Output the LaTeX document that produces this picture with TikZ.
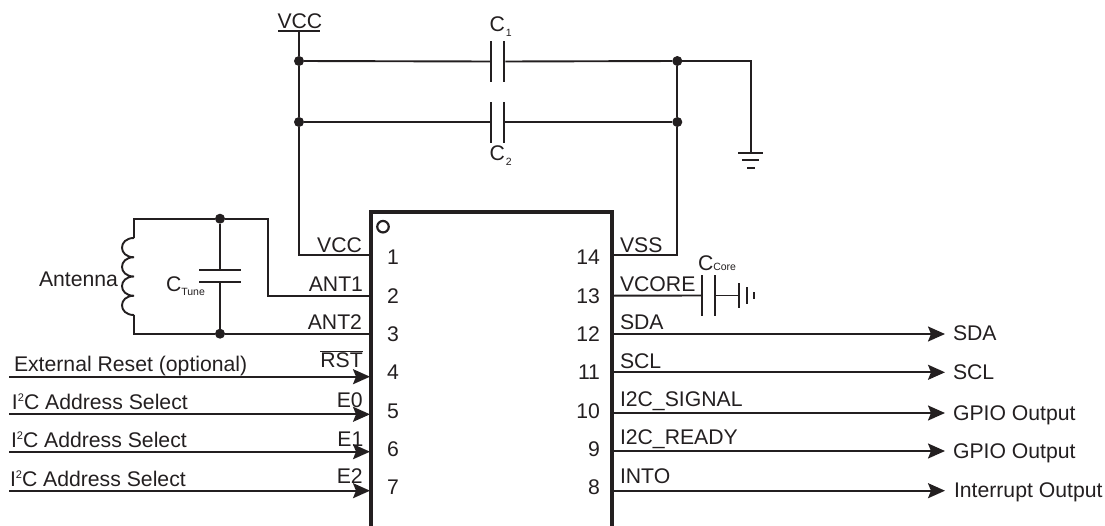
\documentclass[tikz,border=0pt]{standalone}
\usepackage{fontspec}
\setmainfont{Liberation Sans}
\usetikzlibrary{arrows.meta}
\definecolor{ink}{HTML}{231F20}
\newcommand{\subtxt}[1]{{\fontsize{10.5}{12}\selectfont #1}}
\newcommand{\itwoc}{I\raisebox{7.5pt}{\fontsize{11}{12}\selectfont 2}C Address Select}
\tikzset{
  every node/.style={inner sep=0pt,outer sep=0pt,text=ink,font=\fontsize{21.2}{24}\selectfont},
  wire/.style={draw=ink,line width=1.9pt,line join=miter},
  sig/.style={wire,-{Stealth[length=17pt,width=15pt,inset=3pt]}},
  dot/.style={circle,fill=ink,minimum size=10pt},
  vplate/.style={rectangle,fill=ink,minimum width=2pt,minimum height=#1},
  hplate/.style={rectangle,fill=ink,minimum height=2pt,minimum width=#1},
  lbl/.style={anchor=base west,yshift=-1pt},
  rlbl/.style={anchor=base east,yshift=-1pt},
  num/.style={anchor=base,yshift=-1pt},
}
\begin{document}
\begin{tikzpicture}[x=1pt,y=-1pt]
\useasboundingbox (0,0) rectangle (1105,525);
% junctions
\node[dot] (dv1) at (299,61) {};
\node[dot] (dv2) at (299,122) {};
\node[dot] (dg1) at (677.3,61) {};
\node[dot] (dg2) at (677.3,122) {};
\node[dot] (dt1) at (220,218.7) {};
\node[dot] (dt2) at (220,333.7) {};
% VCC rail
\node[hplate=42pt] (vccbar) at (299,30.7) {};
\node[lbl] (vcctop) at (277.5,27) {VCC};
% capacitors
\node[vplate=41pt] (c1a) at (491.3,61.5) {};
\node[vplate=41pt] (c1b) at (504.3,61.5) {};
\node[vplate=41pt] (c2a) at (491.3,122) {};
\node[vplate=41pt] (c2b) at (504.3,122) {};
\node[lbl] (c1l) at (489.5,30) {C\subtxt{\raisebox{-5pt}{\hspace{1pt}1}}};
\node[lbl] (c2l) at (489.5,159) {C\subtxt{\raisebox{-5pt}{\hspace{1pt}2}}};
% ground top
\coordinate (gc) at (750.7,61);
\node[hplate=25pt] (g1) at (750.7,153) {};
\node[hplate=17pt] (g2) at (750.7,160) {};
\node[hplate=8pt] (g3) at (750.7,168) {};
% left pins
\coordinate (p1) at (371,255);
\coordinate (p2) at (371,295.7);
\coordinate (p3) at (371,333.7);
\coordinate (p4) at (370,376.7);
\coordinate (p5) at (370,414.3);
\coordinate (p6) at (370,451.7);
\coordinate (p7) at (370,490.7);
\coordinate (s4) at (9,376.7);
\coordinate (s5) at (9,414.3);
\coordinate (s6) at (9,451.7);
\coordinate (s7) at (9,490.7);
% right pins
\coordinate (p14) at (612,255);
\coordinate (p13) at (612,295.7);
\coordinate (p12) at (612,334);
\coordinate (p11) at (612,372.3);
\coordinate (p10) at (612,413);
\coordinate (p9) at (612,451);
\coordinate (p8) at (612,490.7);
\coordinate (o12) at (945,334);
\coordinate (o11) at (945,372.3);
\coordinate (o10) at (945,413);
\coordinate (o9) at (945,451);
\coordinate (o8) at (945,490.7);
% antenna
\coordinate (a1) at (134,218.7);
\coordinate (a2) at (134,238);
\coordinate (a3) at (134,315);
\coordinate (a4) at (134,333.7);
\node[hplate=42pt] (ct1) at (220,270) {};
\node[hplate=42pt] (ct2) at (220,282) {};
% Ccore
\node[vplate=41pt] (cc1) at (702,295.5) {};
\node[vplate=41pt] (cc2) at (714.7,295.5) {};
\node[vplate=25pt] (gg1) at (739.3,295.5) {};
\node[vplate=17pt] (gg2) at (747,295.5) {};
\node[vplate=7pt] (gg3) at (754,295.5) {};
% connectors
\draw[wire] (vccbar) -- (dv1);
\draw[wire] (dv1) -- (dv2);
\draw[wire] (dv2) |- (p1);
\draw[wire] (dv1) -- (c1a);
\draw[wire] (c1b) -- (dg1);
\draw[wire] (dv2) -- (c2a);
\draw[wire] (c2b) -- (dg2);
\draw[wire] (dg1) -- (dg2);
\draw[wire] (dg2) |- (p14);
\draw[wire] (dg1) -| (gc) -- (g1);
\draw[wire] (a2) -- (a1) -- (dt1);
\draw[wire] (a2) .. controls (118,238) and (118,257.25) .. (134,257.25)
  .. controls (118,257.25) and (118,276.5) .. (134,276.5)
  .. controls (118,276.5) and (118,295.75) .. (134,295.75)
  .. controls (118,295.75) and (118,315) .. (a3);
\draw[wire] (a3) -- (a4) -- (dt2);
\draw[wire] (dt1) -- (ct1);
\draw[wire] (ct2) -- (dt2);
\draw[wire] (dt1) -| (268,295.7) -- (p2);
\draw[wire] (dt2) -- (p3);
\draw[sig] (s4) -- (p4);
\draw[sig] (s5) -- (p5);
\draw[sig] (s6) -- (p6);
\draw[sig] (s7) -- (p7);
\draw[wire] (p13) -- (cc1);
\draw[wire] (cc2) -- (gg1);
\draw[sig] (p12) -- (o12);
\draw[sig] (p11) -- (o11);
\draw[sig] (p10) -- (o10);
\draw[sig] (p9) -- (o9);
\draw[sig] (p8) -- (o8);
% IC body
\coordinate (icbl) at (371,527);
\coordinate (icbr) at (612,527);
\coordinate (ictl) at (371,212);
\coordinate (ictr) at (612,212);
\draw[draw=ink,line width=4.5pt,line join=miter] (icbl) -- (ictl) -- (ictr) -- (icbr);
\node[circle,draw=ink,line width=2.2pt,minimum size=11.5pt] (pin1mark) at (383,226.7) {};
% left texts
\node[lbl] (tant) at (39,285) {Antenna};
\node[lbl] (tct) at (166,290) {C\subtxt{\raisebox{-4pt}{Tune}}};
\node[lbl] (trst) at (14,370) {External Reset (optional)};
\node[lbl] (ti1) at (12,408) {\itwoc};
\node[lbl] (ti2) at (11,446) {\itwoc};
\node[lbl] (ti3) at (10,485) {\itwoc};
\node[rlbl] (lvcc) at (362,251.7) {VCC};
\node[rlbl] (lant1) at (363,290) {ANT1};
\node[rlbl] (lant2) at (362,328) {ANT2};
\node[rlbl] (lrst) at (362.7,366) {$\overline{\mbox{RST}}$};
\node[rlbl] (le0) at (362.7,406.7) {E0};
\node[rlbl] (le1) at (363.3,445) {E1};
\node[rlbl] (le2) at (362.7,482.7) {E2};
\node[num] (n1) at (393,263) {1};
\node[num] (n2) at (393,302) {2};
\node[num] (n3) at (393,340) {3};
\node[num] (n4) at (393,378) {4};
\node[num] (n5) at (393,417) {5};
\node[num] (n6) at (393,455) {6};
\node[num] (n7) at (393,493) {7};
\node[rlbl] (n14) at (600,263) {14};
\node[rlbl] (n13) at (600,302) {13};
\node[rlbl] (n12) at (600,340) {12};
\node[rlbl] (n11) at (600,378) {11};
\node[rlbl] (n10) at (600,417) {10};
\node[rlbl] (n9) at (600,455) {9};
\node[rlbl] (n8) at (600,493) {8};
\node[lbl] (lvss) at (620,251.7) {VSS};
\node[lbl] (lvcore) at (620,290) {VCORE};
\node[lbl] (lsda) at (620,328) {SDA};
\node[lbl] (lscl) at (620,367) {SCL};
\node[lbl] (lsig) at (620,405) {I2C\_SIGNAL};
\node[lbl] (lrdy) at (620,443) {I2C\_READY};
\node[lbl] (lint) at (620,482) {INTO};
\node[lbl] (tcc) at (698,269) {C\subtxt{Core}};
\node[lbl] (osda) at (953,339) {SDA};
\node[lbl] (oscl) at (953,378) {SCL};
\node[lbl] (og1) at (953,419) {GPIO Output};
\node[lbl] (og2) at (953,457) {GPIO Output};
\node[lbl] (oint) at (954,496) {Interrupt Output};
\end{tikzpicture}
\end{document}
